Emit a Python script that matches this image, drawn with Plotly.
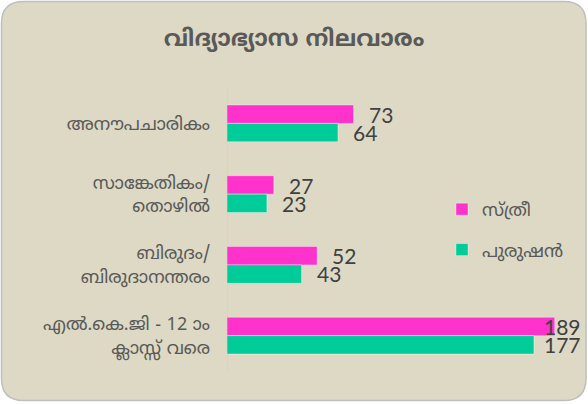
import plotly.graph_objects as go

categories = ["അനൗപചാരികം", "സാങ്കേതികം/<br>തൊഴിൽ", "ബിരുദം/<br>ബിരുദാനന്തരം", "എൽ.കെ.ജി - 12\u00a0ാം<br>ക്ലാസ്സ് വരെ"]
series_names = ["സ്ത്രീ", "പുരുഷൻ"]
female = [73, 27, 52, 189]
male = [64, 23, 43, 177]
title_text = "വിദ്യാഭ്യാസ നിലവാരം"

W, H = 588, 404
ML, MR, MT, MB = 227, 9, 88, 33
XMAX = 203
colors = ["#FF33CC", "#00CC99"]
mal_font = "Noto Sans Malayalam, Noto Sans, sans-serif"
num_font = "Lato, Open Sans, sans-serif"

fig = go.Figure()
for name, vals, col, grp in [(series_names[0], female, colors[0], "a"), (series_names[1], male, colors[1], "b")]:
    fig.add_trace(go.Bar(
        y=categories, x=vals, name=name, orientation="h",
        marker=dict(color=col, line=dict(color="rgba(255,255,255,0.35)", width=1)),
        legendgroup=grp, hoverinfo="skip",
    ))

pw = W - ML - MR
annotations = []
for vals, shift in [(female, 9), (male, -9)]:
    for c, v in zip(categories, vals):
        if v / XMAX * pw + 16 + 36 > pw:
            annotations.append(dict(x=1, xref="paper", y=c, yref="y", yshift=shift, xshift=4,
                                    text=str(v), showarrow=False, xanchor="right",
                                    font=dict(family=num_font, size=21, color="#404040")))
        else:
            annotations.append(dict(x=v, xref="x", y=c, yref="y", yshift=shift, xshift=13,
                                    text=str(v), showarrow=False, xanchor="left",
                                    font=dict(family=num_font, size=21, color="#404040")))

ph = H - MT - MB
def px(x):
    return (x - ML) / pw
def py(y):
    return (H - MB - y) / ph

x0, x1, y0, y1, r = 1.5, 586, 1.5, 400.5, 22
path = (f"M {px(x0+r)},{py(y0)} L {px(x1-r)},{py(y0)} Q {px(x1)},{py(y0)} {px(x1)},{py(y0+r)} "
        f"L {px(x1)},{py(y1-r)} Q {px(x1)},{py(y1)} {px(x1-r)},{py(y1)} "
        f"L {px(x0+r)},{py(y1)} Q {px(x0)},{py(y1)} {px(x0)},{py(y1-r)} "
        f"L {px(x0)},{py(y0+r)} Q {px(x0)},{py(y0)} {px(x0+r)},{py(y0)} Z")

fig.update_layout(
    width=W, height=H,
    margin=dict(l=ML, r=MR, t=MT, b=MB),
    paper_bgcolor="white",
    plot_bgcolor="rgba(0,0,0,0)",
    barmode="group", bargap=0.48, bargroupgap=0,
    title=dict(text=f"<b>{title_text}</b>", x=0.5, xref="container", xanchor="center",
               y=1 - 38 / H, yanchor="middle", yref="container",
               font=dict(family=mal_font, size=23, color="#595959")),
    xaxis=dict(range=[0, XMAX], visible=False, fixedrange=True),
    yaxis=dict(autorange="reversed", showgrid=False, zeroline=False,
               showline=False, ticks="", ticklabelstandoff=16, fixedrange=True,
               tickfont=dict(family=mal_font, size=18, color="#595959")),
    legend=dict(x=px(442), xanchor="left", y=py(191), yanchor="top",
                bgcolor="rgba(0,0,0,0)", traceorder="grouped", tracegroupgap=14,
                font=dict(family=mal_font, size=18, color="#595959")),
    annotations=annotations,
    shapes=[
        dict(type="path", path=path, xref="paper", yref="paper",
             fillcolor="#DDD9C4", line=dict(color="#BFBFBF", width=1.5), layer="below"),
        dict(type="line", xref="x", yref="paper", x0=0, x1=0, y0=0, y1=1,
             line=dict(color="#D0D0D0", width=1.5), layer="below"),
    ],
)

fig.write_html("out.html", config={"displayModeBar": False},
               post_script="document.body.style.margin='0';")
